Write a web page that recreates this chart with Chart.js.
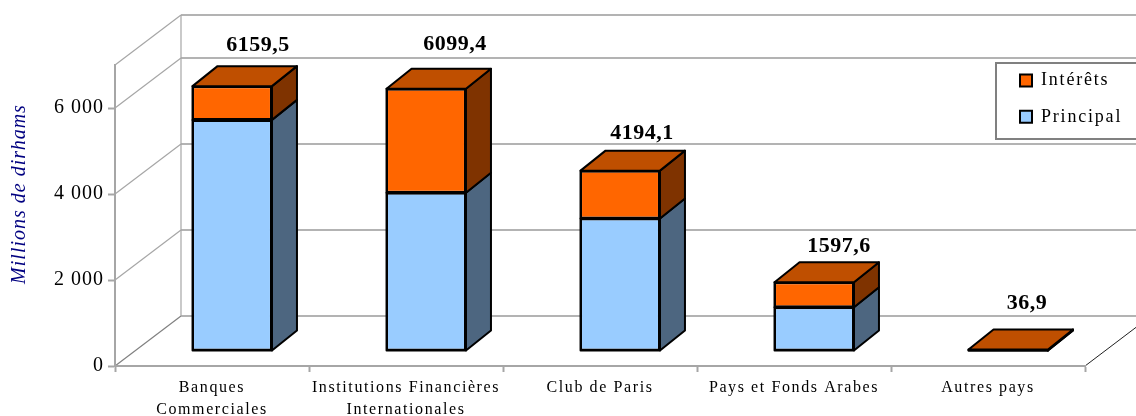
<!DOCTYPE html>
<html>
<head>
<meta charset="utf-8">
<title>Millions de dirhams</title>
<script src="https://cdn.jsdelivr.net/npm/chart.js@4"></script>
<style>
  html, body { margin: 0; padding: 0; background: #ffffff; overflow: hidden; }
  canvas { display: block; }
</style>
</head>
<body>
<canvas id="chart" width="1136" height="416"></canvas>
<script>
const categories = [
  ["Banques", "Commerciales"],
  ["Institutions Financières", "Internationales"],
  "Club de Paris",
  "Pays et Fonds Arabes",
  "Autres pays",
];
const principal = [5375, 3680, 3081, 1019, 10];
const interets = [784.5, 2419.4, 1113.1, 578.6, 26.9];
const totalLabels = ["6159,5", "6099,4", "4194,1", "1597,6", "36,9"];
const yTickValues = [0, 2000, 4000, 6000];
const yTickLabels = ["0", "2 000", "4 000", "6 000"];

// hand placed in the original, relative to the top of each bar
const labelShiftX = [26, 29, 22, 25, 19];
const labelShiftY = [-36, -40, -33, -31, -41];

const SERIF = '"Liberation Serif", serif';
const WALL = { dx: 66, dy: -50 };
const BAR_POS = { dx: 20, dy: -15 };
const BAR_DEPTH = { dx: 25, dy: -20 };

function line(ctx, x1, y1, x2, y2, color, width) {
  ctx.beginPath();
  ctx.moveTo(x1, y1);
  ctx.lineTo(x2, y2);
  ctx.strokeStyle = color;
  ctx.lineWidth = width;
  ctx.stroke();
}

function face(ctx, points, color) {
  ctx.beginPath();
  points.forEach((p, i) => (i ? ctx.lineTo(p[0], p[1]) : ctx.moveTo(p[0], p[1])));
  ctx.closePath();
  ctx.fillStyle = color;
  ctx.fill();
  ctx.strokeStyle = "#000000";
  ctx.lineWidth = 2;
  ctx.lineJoin = "round";
  ctx.stroke();
}

// each axis has its own tracking, the canvas only has one state for it
function trackLabels(scale, spacing) {
  const drawLabels = scale.drawLabels;
  scale.drawLabels = function (area) {
    const ctx = this.ctx;
    const old = ctx.letterSpacing;
    ctx.letterSpacing = spacing;
    drawLabels.call(this, area);
    ctx.letterSpacing = old;
  };
  scale.tracked = true;
}

const walls3d = {
  id: "walls3d",
  afterLayout(chart) {
    const legend = chart.legend;
    legend.left = 1001.6;
    legend.right = 1136;
    legend.top = 53;
    legend.bottom = 416;
  },
  beforeDraw(chart) {
    const { ctx, scales, chartArea } = chart;
    const { x, y } = scales;
    if (!x.tracked) {
      trackLabels(x, "1.6px");
      trackLabels(y, "1px");
    }
    ctx.save();
    ctx.letterSpacing = "0px";
    const backX = chartArea.left + WALL.dx;
    const levels = yTickValues.concat([y.max]);
    levels.forEach((value) => {
      const py = y.getPixelForValue(value);
      const diag = value === 0 ? "#808080" : "#a6a6a6";
      line(ctx, chartArea.left, py, backX, py + WALL.dy, diag, 1.2);
      line(ctx, backX, py + WALL.dy, chartArea.right + WALL.dx, py + WALL.dy, "#b3b3b3", 2);
    });
    line(ctx, backX, chartArea.top + WALL.dy, backX, chartArea.bottom + WALL.dy, "#a6a6a6", 1.2);
    line(ctx, chartArea.right, chartArea.bottom, chartArea.right + WALL.dx, chartArea.bottom + WALL.dy, "#202020", 1);

    // legend frame
    ctx.fillStyle = "#ffffff";
    ctx.fillRect(996, 63, 142, 76);
    ctx.strokeStyle = "#808080";
    ctx.lineWidth = 2;
    ctx.strokeRect(996, 63, 142, 76);

    // axis title
    ctx.translate(20, 194);
    ctx.rotate(-Math.PI / 2);
    ctx.font = "italic 20px " + SERIF;
    ctx.fillStyle = "#000080";
    ctx.textAlign = "center";
    ctx.textBaseline = "middle";
    ctx.letterSpacing = "1px";
    ctx.fillText("Millions de dirhams", 0, 0);
    ctx.restore();
    ctx.letterSpacing = "1.8px";
  },
  beforeDatasetsDraw(chart) {
    chart.ctx.save();
    chart.ctx.translate(BAR_POS.dx, BAR_POS.dy);
  },
  afterDatasetsDraw(chart) {
    const ctx = chart.ctx;
    const sideColors = ["#4d6680", "#7f3300"];
    const topColor = "#bf4f00";
    const d = BAR_DEPTH;
    chart.data.datasets.forEach((ds, i) => {
      chart.getDatasetMeta(i).data.forEach((bar) => {
        const l = bar.x - bar.width / 2 + 0.5;
        const r = bar.x + bar.width / 2;
        face(ctx, [[r, bar.y], [r + d.dx, bar.y + d.dy], [r + d.dx, bar.base + d.dy], [r, bar.base]], sideColors[i]);
        // chart.js insets its border, the original centres it on the edge
        ctx.strokeRect(l, bar.y, r - l, bar.base - bar.y);
      });
    });
    const last = chart.data.datasets.length - 1;
    chart.getDatasetMeta(last).data.forEach((bar, i) => {
      const l = bar.x - bar.width / 2 + 0.5;
      const r = bar.x + bar.width / 2;
      const t = bar.y;
      face(ctx, [[l, t], [l + d.dx, t + d.dy], [r + d.dx, t + d.dy], [r, t]], topColor);
      ctx.font = "bold 22px " + SERIF;
      ctx.fillStyle = "#000000";
      ctx.textAlign = "center";
      ctx.textBaseline = "alphabetic";
      ctx.letterSpacing = "0.5px";
      ctx.fillText(totalLabels[i], bar.x + labelShiftX[i], bar.y + labelShiftY[i] + 1);
    });
    ctx.restore();
  },
};

new Chart(document.getElementById("chart"), {
  type: "bar",
  plugins: [walls3d],
  data: {
    labels: categories,
    datasets: [
      {
        label: "Principal",
        data: principal,
        backgroundColor: "#99ccff",
        borderColor: "#000000",
        borderWidth: 2,
        borderSkipped: false,
        clip: false,
      },
      {
        label: "Intérêts",
        data: interets,
        backgroundColor: "#ff6600",
        borderColor: "#000000",
        borderWidth: 2,
        borderSkipped: false,
        clip: false,
      },
    ],
  },
  options: {
    responsive: false,
    animation: false,
    layout: { padding: { left: 0, right: 51, top: 65, bottom: 0 } },
    datasets: { bar: { categoryPercentage: 1, barPercentage: 0.412 } },
    plugins: {
      tooltip: { enabled: false },
      legend: {
        position: "chartArea",
        align: "start",
        reverse: true,
        labels: {
          boxWidth: 12,
          boxHeight: 12,
          padding: 18.4,
          color: "#000000",
          font: { family: SERIF, size: 18 },
        },
      },
    },
    scales: {
      x: {
        stacked: true,
        afterFit(scale) {
          scale.height = 50;
        },
        border: { color: "#a6a6a6", width: 2 },
        grid: { drawOnChartArea: false, color: "#a6a6a6", tickLength: 6, tickWidth: 2 },
        ticks: {
          autoSkip: false,
          maxRotation: 0,
          padding: 5,
          color: "#000000",
          font: { family: SERIF, size: 16, lineHeight: 1.38 },
        },
      },
      y: {
        stacked: true,
        min: 0,
        max: 7000,
        afterFit(scale) {
          scale.width = 115;
        },
        afterBuildTicks(scale) {
          scale.ticks = yTickValues.map((value) => ({ value }));
        },
        border: { color: "#a6a6a6", width: 2 },
        grid: { drawOnChartArea: false, color: "#a6a6a6", tickLength: 7, tickWidth: 2 },
        ticks: {
          autoSkip: false,
          padding: 4,
          color: "#000000",
          font: { family: SERIF, size: 20 },
          callback: (value, index) => yTickLabels[index],
        },
      },
    },
  },
});
</script>
</body>
</html>
